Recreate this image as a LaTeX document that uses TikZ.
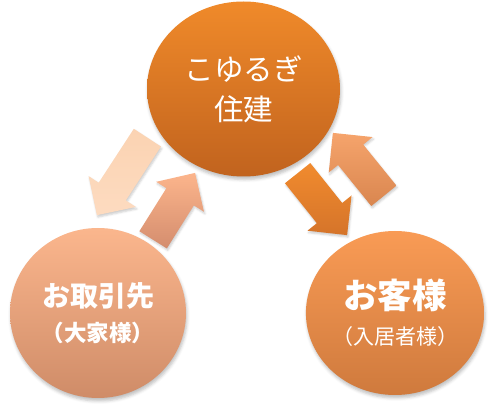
\documentclass[tikz,border=0pt]{standalone}
\usepackage{fontspec}
\usepackage{tikz}
\usetikzlibrary{shapes.geometric,shapes.arrows,shadows.blur}
\newfontfamily\jpfont{Noto Sans CJK JP}

\definecolor{kouyuTop}{HTML}{F08A2A}
\definecolor{kouyuBot}{HTML}{C1631E}
\definecolor{yanushiTop}{HTML}{FBB68D}
\definecolor{yanushiBot}{HTML}{CF8C68}
\definecolor{kyakuTop}{HTML}{F99B55}
\definecolor{kyakuBot}{HTML}{CF7A3D}
\definecolor{peachA}{HTML}{FBD3B2}
\definecolor{peachB}{HTML}{FDDBC0}
\definecolor{salmonA}{HTML}{FCB58C}
\definecolor{salmonB}{HTML}{D48D6E}
\definecolor{orangeA}{HTML}{F18B2E}
\definecolor{orangeB}{HTML}{D5742A}
\definecolor{amberA}{HTML}{F6A46C}
\definecolor{amberB}{HTML}{D9864F}

\begin{document}
\begin{tikzpicture}
  [x=1pt,y=1pt,every node/.style={text=white},
   party/.style={ellipse,inner sep=0pt,align=center,
     blur shadow={shadow xshift=1pt,shadow yshift=-3pt,shadow blur radius=3pt,shadow opacity=25}},
   flow/.style={single arrow,anchor=tail,inner xsep=0pt,inner ysep=16pt,
     single arrow head extend=12pt,
     blur shadow={shadow xshift=1pt,shadow yshift=-2pt,shadow blur radius=2pt,shadow opacity=20}}]

  \useasboundingbox (0,0) rectangle (493,407);

  \node[party,minimum width=193pt,minimum height=175pt,top color=kouyuTop,bottom color=kouyuBot,
    font=\jpfont\fontsize{29.5}{40}\selectfont]
    (kouyu) at (243.5,318) {こゆるぎ\\住建};
  \node[party,minimum width=176pt,minimum height=170pt,top color=yanushiTop,bottom color=yanushiBot,
    font=\jpfont\bfseries\fontsize{28}{35}\selectfont]
    (yanushi) at (98,94) {お取引先\\\fontsize{22.5}{35}\selectfont （大家様）};
  \node[party,minimum width=174pt,minimum height=164pt,top color=kyakuTop,bottom color=kyakuBot,
    font=\jpfont\fontsize{34.5}{36}\selectfont]
    (kyaku) at (395,94) {\bfseries お客様\\\fontsize{21}{36}\selectfont （入居者様）};

  \foreach \name/\x/\y/\ang/\len/\from/\to in
  {toYanushi/147.5/269.5/236.9/92.5/peachA/peachB,
   fromYanushi/153/167/57.9/79/salmonA/salmonB,
   toKyaku/297.5/234/-51.4/79.3/orangeA/orangeB,
   fromKyaku/384/211/129/81/amberA/amberB}
    \node[flow,rotate=\ang,minimum height=\len pt,top color=\from,bottom color=\to]
      (\name) at (\x,\y) {};
\end{tikzpicture}
\end{document}
